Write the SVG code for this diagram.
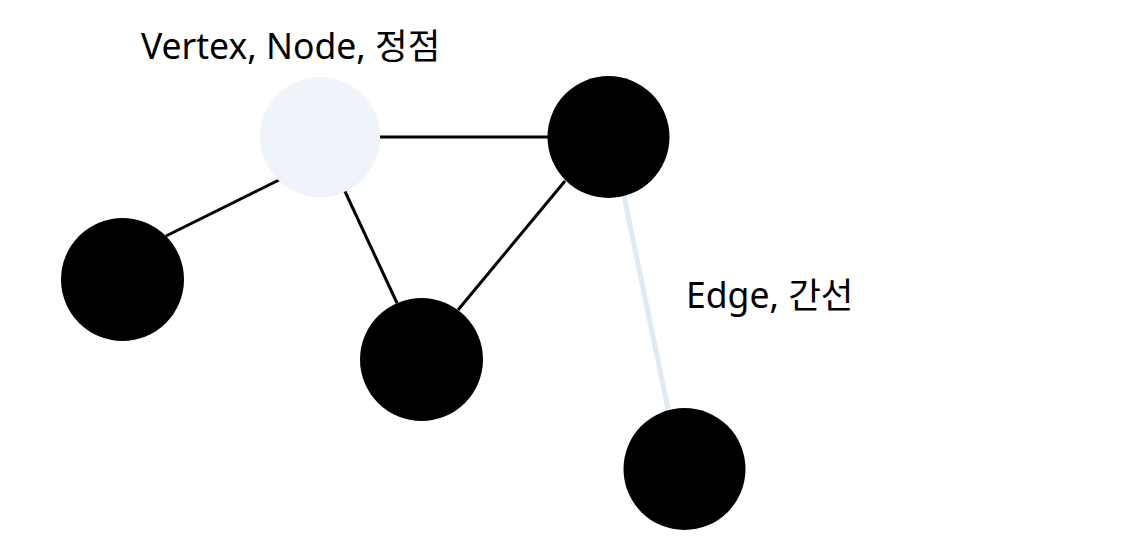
<svg xmlns="http://www.w3.org/2000/svg" width="1132" height="548" viewBox="0 0 1132 548">
<style>
.lbl{font-family:"Noto Sans","Noto Sans CJK KR",sans-serif;font-size:35.5px;fill:#000}
.e{stroke:#000;stroke-width:3;fill:none}
.hl{stroke:#e0eaf5;stroke-width:5;fill:none}
.n{fill:#000}
.nl{fill:#eef4fa}
</style>
<rect width="1132" height="548" fill="#fff"/>
<g id="edges">
<line class="e" x1="380" y1="137" x2="548" y2="137"/>
<line class="e" x1="279" y1="180" x2="166" y2="236"/>
<line class="e" x1="342" y1="185" x2="397" y2="303"/>
<line class="e" x1="565" y1="181" x2="458" y2="310"/>
<line class="hl" x1="624" y1="196" x2="668" y2="409"/>
</g>
<g id="node-vertex"><circle class="nl" cx="320" cy="137" r="60"/></g>
<g id="node-top-right"><circle class="n" cx="608.5" cy="137" r="61"/></g>
<g id="node-left"><circle class="n" cx="122.5" cy="279.5" r="61.5"/></g>
<g id="node-middle"><circle class="n" cx="421.5" cy="359.5" r="61.5"/></g>
<g id="node-bottom-right"><circle class="n" cx="684.5" cy="469" r="61"/></g>
<g id="labels">
<text class="lbl" x="141" y="59">Vertex, Node, 정점</text>
<text class="lbl" x="686" y="308">Edge, 간선</text>
</g>
</svg>
